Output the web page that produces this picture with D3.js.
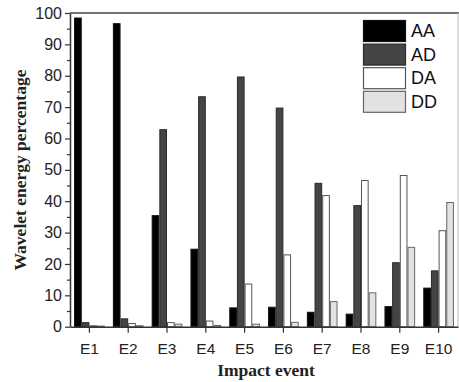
<!DOCTYPE html>
<html>
<head>
<meta charset="utf-8">
<script src="https://cdn.jsdelivr.net/npm/d3@7"></script>
<style>
  body { margin: 0; background: #fff; }
  svg { display: block; }
</style>
</head>
<body>
<svg id="chart" width="459" height="382"></svg>
<script>
const events = ['E1', 'E2', 'E3', 'E4', 'E5', 'E6', 'E7', 'E8', 'E9', 'E10'];
const seriesNames = ['AA', 'AD', 'DA', 'DD'];
const aa = [98.4, 96.6, 35.4, 24.7, 6.0, 6.2, 4.6, 4.0, 6.4, 12.3];
const ad = [1.3, 2.5, 62.8, 73.3, 79.6, 69.7, 45.7, 38.6, 20.4, 17.8];
const da = [0.3, 1.0, 1.3, 1.8, 13.6, 22.9, 41.8, 46.6, 48.2, 30.6];
const dd = [0.2, 0.3, 0.8, 0.4, 0.8, 1.4, 8.0, 10.8, 25.3, 39.6];
const yTicks = [0, 10, 20, 30, 40, 50, 60, 70, 80, 90, 100];

const seriesValues = [aa, ad, da, dd];
const fills = ['#000000', '#454545', '#ffffff', '#e2e2e2'];
const strokes = ['#111111', '#2a2a2a', '#555555', '#666666'];

const MARGINS = { top: 13, bottom: 55, left: 70, right: 1 };
const svg = d3.select('#chart');
const width = +svg.attr('width');
const height = +svg.attr('height');

const x = d3.scaleBand()
  .domain(events)
  .range([MARGINS.left, width - MARGINS.right])
  .paddingInner(0.21)
  .paddingOuter(0.105);

const xSeries = d3.scaleBand()
  .domain(seriesNames)
  .range([0, x.bandwidth()]);

const y = d3.scaleLinear()
  .domain([0, 100])
  .range([height - MARGINS.bottom - 0.3, MARGINS.top]);

// bars
const groups = svg.append('g').attr('class', 'bars')
  .selectAll('g')
  .data(events)
  .join('g')
  .attr('transform', d => `translate(${x(d)},0)`);

groups.selectAll('rect')
  .data((d, i) => seriesNames.map((s, k) => ({ s, k, v: seriesValues[k][i] })))
  .join('rect')
  .attr('x', d => xSeries(d.s) + 0.5)
  .attr('y', d => y(d.v))
  .attr('width', xSeries.bandwidth() - 1)
  .attr('height', d => y(0) - y(d.v))
  .attr('fill', d => fills[d.k])
  .attr('stroke', d => strokes[d.k])
  .attr('stroke-width', 1);

// frame (top + right)
svg.append('line')
  .attr('x1', MARGINS.left).attr('x2', width)
  .attr('y1', y(100)).attr('y2', y(100))
  .attr('stroke', '#444').attr('stroke-width', 1.5);
svg.append('line')
  .attr('x1', width - 1).attr('x2', width - 1)
  .attr('y1', y(100)).attr('y2', y(0))
  .attr('stroke', '#bbb').attr('stroke-width', 1);

// y axis
const yAxis = svg.append('g')
  .attr('transform', `translate(${MARGINS.left},0)`)
  .call(d3.axisLeft(y).tickValues(yTicks).tickSize(5).tickPadding(3).tickSizeOuter(0));
// minor ticks
svg.append('g')
  .attr('transform', `translate(${MARGINS.left},0)`)
  .call(d3.axisLeft(y).tickValues(d3.range(5, 100, 10)).tickSize(3).tickFormat('').tickSizeOuter(0))
  .select('.domain').remove();

// x axis
const xAxis = svg.append('g')
  .attr('transform', `translate(0,${y(0)})`)
  .call(d3.axisBottom(x).tickSize(6).tickPadding(10).tickSizeOuter(0));

svg.selectAll('.domain').attr('stroke', '#333').attr('stroke-width', 1.5);
svg.selectAll('.tick line').attr('stroke', '#333').attr('stroke-width', 1.2);
yAxis.selectAll('text')
  .attr('font-family', 'Liberation Sans, Arial, sans-serif')
  .attr('font-size', 16)
  .attr('fill', '#222');
xAxis.selectAll('text')
  .attr('font-family', 'Liberation Sans, Arial, sans-serif')
  .attr('font-size', 15.5)
  .attr('fill', '#222');

// axis titles
svg.append('text')
  .attr('x', 266)
  .attr('y', 376)
  .attr('text-anchor', 'middle')
  .attr('font-family', 'Liberation Serif, Times New Roman, serif')
  .attr('font-weight', 'bold')
  .attr('font-size', 17.5)
  .attr('fill', '#222')
  .text('Impact event');

svg.append('text')
  .attr('transform', 'translate(26,170) rotate(-90)')
  .attr('text-anchor', 'middle')
  .attr('font-family', 'Liberation Serif, Times New Roman, serif')
  .attr('font-weight', 'bold')
  .attr('font-size', 17.5)
  .attr('fill', '#222')
  .text('Wavelet energy percentage');

// legend
const legend = svg.append('g').attr('transform', 'translate(363,20)');
const legendItems = legend.selectAll('g')
  .data(seriesNames)
  .join('g')
  .attr('transform', (d, i) => `translate(0,${i * 23.6})`);
legendItems.append('rect')
  .attr('x', 0.5).attr('y', 0.5)
  .attr('width', 42).attr('height', 21)
  .attr('fill', (d, i) => fills[i])
  .attr('stroke', (d, i) => strokes[i])
  .attr('stroke-width', 1.2);
legendItems.append('text')
  .attr('x', 48)
  .attr('y', 17)
  .attr('font-family', 'Liberation Sans, Arial, sans-serif')
  .attr('font-size', 18)
  .attr('fill', '#111')
  .text(d => d);
</script>
</body>
</html>
